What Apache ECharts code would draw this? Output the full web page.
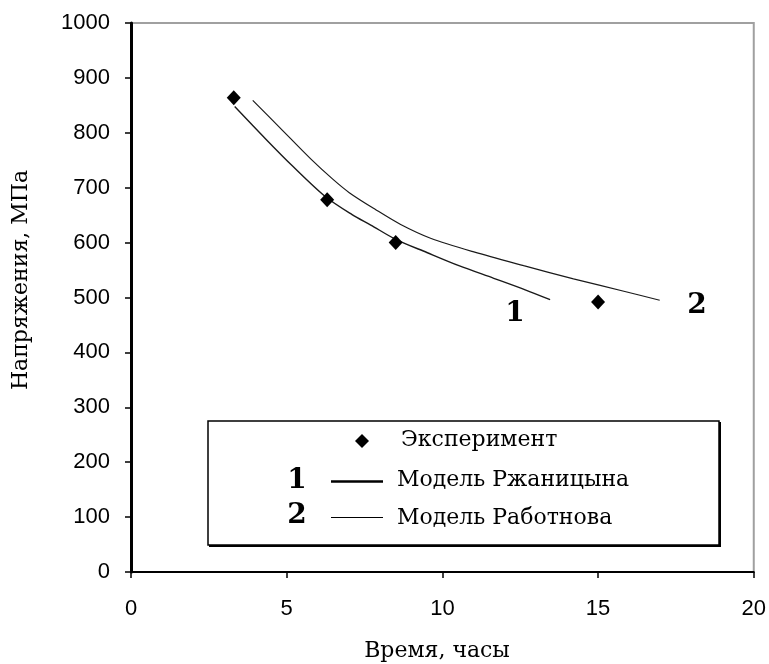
<!DOCTYPE html>
<html>
<head>
<meta charset="utf-8">
<script src="https://cdn.jsdelivr.net/npm/echarts@6/dist/echarts.min.js"></script>
<style>html,body{margin:0;padding:0;background:#fff}#c{width:769px;height:664px}</style>
</head>
<body>
<div id="c"></div>
<script>
// Data
const expTime = [3.3, 6.3, 8.5, 15.0];
const expStress = [864, 678, 600, 492];

const model1Time = [3.33, 4.34, 5.18, 6.26, 7.10, 7.70, 8.50, 9.50, 10.53, 11.65, 12.66, 13.46];
const model1Stress = [848, 788, 740, 683, 651, 632, 606, 582, 558, 535, 514, 496];

const model2Time = [3.91, 4.77, 5.78, 6.47, 7.01, 7.86, 8.66, 9.62, 11.01, 12.61, 14.21, 15.86, 16.98];
const model2Stress = [859, 810, 752, 716, 691, 660, 633, 608, 583, 558, 534, 511, 495];

const xTicks = [0, 5, 10, 15, 20];
const yTicks = [0, 100, 200, 300, 400, 500, 600, 700, 800, 900, 1000];

const seriesNames = ['Эксперимент', 'Модель Ржаницына', 'Модель Работнова'];
const xTitle = 'Время, часы';
const yTitle = 'Напряжения, МПа';

const zip = (a, b) => a.map((v, i) => [v, b[i]]);

const chart = echarts.init(document.getElementById('c'), null, {renderer: 'canvas'});
const serifFont = "'DejaVu Serif', 'Liberation Serif', serif";
const tickFont = "'Liberation Sans Narrow', 'Liberation Sans', Arial, sans-serif";

chart.setOption({
  animation: false,
  backgroundColor: '#ffffff',
  grid: {left: 131, right: 13, top: 23, bottom: 92, show: true, borderColor: '#a0a0a0', borderWidth: 2, backgroundColor: 'transparent'},
  xAxis: {
    type: 'value', min: xTicks[0], max: xTicks[xTicks.length - 1], interval: 5,
    axisLine: {show: true, lineStyle: {color: '#000', width: 2}},
    axisTick: {show: true, inside: false, length: 6, lineStyle: {color: '#000', width: 1.5}},
    axisLabel: {margin: 26, color: '#000', fontFamily: tickFont, fontSize: 22, formatter: v => String(v)},
    splitLine: {show: false}
  },
  yAxis: {
    type: 'value', min: yTicks[0], max: yTicks[yTicks.length - 1], interval: 100,
    axisLine: {show: true, lineStyle: {color: '#000', width: 3}},
    axisTick: {show: true, inside: false, length: 6, lineStyle: {color: '#000', width: 1.5}},
    axisLabel: {margin: 21, color: '#000', fontFamily: tickFont, fontSize: 22, formatter: v => String(v)},
    splitLine: {show: false}
  },
  series: [
    {
      name: seriesNames[1], type: 'line', smooth: 0.3, showSymbol: false,
      data: zip(model1Time, model1Stress),
      lineStyle: {color: '#1a1a1a', width: 1.4}, z: 2
    },
    {
      name: seriesNames[2], type: 'line', smooth: 0.3, showSymbol: false,
      data: zip(model2Time, model2Stress),
      lineStyle: {color: '#1a1a1a', width: 1.2}, z: 2
    },
    {
      name: seriesNames[0], type: 'scatter', symbol: 'diamond', symbolSize: [14, 15],
      data: zip(expTime, expStress),
      itemStyle: {color: '#000', opacity: 1}, z: 3
    }
  ],
  graphic: [
    // axis titles
    {type: 'text', x: 437, y: 651, style: {text: xTitle, align: 'center', verticalAlign: 'middle', font: '22px ' + serifFont, fill: '#000'}},
    {type: 'text', x: 21, y: 280, rotation: Math.PI / 2, style: {text: yTitle, align: 'center', verticalAlign: 'middle', font: '22px ' + serifFont, fill: '#000'}},
    // curve labels
    {type: 'text', x: 515, y: 314, style: {text: '1', align: 'center', verticalAlign: 'middle', font: 'bold 28px ' + serifFont, fill: '#000'}},
    {type: 'text', x: 697, y: 306, style: {text: '2', align: 'center', verticalAlign: 'middle', font: 'bold 28px ' + serifFont, fill: '#000'}},
    // legend box
    {type: 'rect', shape: {x: 209, y: 422, width: 512, height: 125}, style: {fill: '#000'}},
    {type: 'rect', shape: {x: 208, y: 421, width: 511, height: 124}, style: {fill: '#fff', stroke: '#000', lineWidth: 1.5}},
    {type: 'polygon', shape: {points: [[362, 434], [369, 441], [362, 448], [355, 441]]}, style: {fill: '#000'}},
    {type: 'text', x: 401, y: 440, style: {text: seriesNames[0], align: 'left', verticalAlign: 'middle', font: '22px ' + serifFont, fill: '#000'}},
    {type: 'text', x: 297, y: 481, style: {text: '1', align: 'center', verticalAlign: 'middle', font: 'bold 28px ' + serifFont, fill: '#000'}},
    {type: 'line', shape: {x1: 331, y1: 481.5, x2: 383, y2: 481.5}, style: {stroke: '#000', lineWidth: 2.5}},
    {type: 'text', x: 397, y: 480, style: {text: seriesNames[1], align: 'left', verticalAlign: 'middle', font: '22px ' + serifFont, fill: '#000'}},
    {type: 'text', x: 297, y: 516, style: {text: '2', align: 'center', verticalAlign: 'middle', font: 'bold 28px ' + serifFont, fill: '#000'}},
    {type: 'line', shape: {x1: 331, y1: 517.5, x2: 383, y2: 517.5}, style: {stroke: '#000', lineWidth: 1.2}},
    {type: 'text', x: 397, y: 518, style: {text: seriesNames[2], align: 'left', verticalAlign: 'middle', font: '22px ' + serifFont, fill: '#000'}}
  ]
});
</script>
</body>
</html>
